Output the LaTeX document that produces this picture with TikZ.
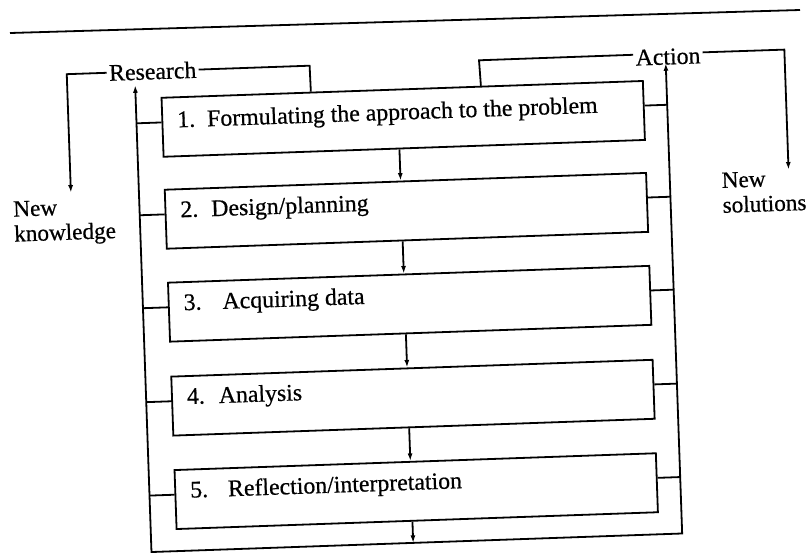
\documentclass[tikz,border=0pt]{standalone}
\usepackage{fontspec}
\setmainfont{Liberation Serif}[FakeBold=0.6]
\usetikzlibrary{arrows.meta,calc}
\begin{document}
\begin{tikzpicture}[x=1pt,y=-1pt,
  every node/.style={font=\fontsize{23.8}{23.3}\selectfont},
  stage/.style={draw, line width=1.8pt, rectangle, anchor=north west,
    minimum width=481.6pt, minimum height=59pt, inner sep=0pt},
  stagetext/.style={anchor=base west, inner sep=0pt},
  headlabel/.style={inner sep=1.5pt},
  outcome/.style={anchor=base west, align=left, inner sep=0pt,
    font=\fontsize{23.2}{25}\selectfont},
  flow/.style={-{Latex[length=7.5pt,width=5pt]}},
]
\useasboundingbox (0,0) rectangle (810,552);
% rule across the head of the page
\draw[line width=1.8pt] (10,33) -- (800,10);

\begin{scope}[rotate around={2:(405,276)}, transform shape, line width=1.8pt]
  % the five stages
  \node[stage] (s1) at (167,88.5) {};
  \node[stage] (s2) at (167,180.5) {};
  \node[stage] (s3) at (167,273.5) {};
  \node[stage] (s4) at (167,367.5) {};
  \node[stage] (s5) at (167,461) {};
  \node[stagetext] (t1) at (182,119.5) {1.\hspace{12pt}Formulating the approach to the problem};
  \node[stagetext] (t2) at (182,209.5) {2.\hspace{13pt}Design/planning};
  \node[stagetext] (t3) at (182,302.5) {3.\hspace{21pt}Acquiring data};
  \node[stagetext] (t4) at (182,396.5) {4.\hspace{14pt}Analysis};
  \node[stagetext] (t5) at (182,490) {5.\hspace{20pt}Reflection/interpretation};

  % research bus (left), bottom line and action bus (right)
  \coordinate (ltop) at (142,76);
  \coordinate (lbot) at (142,543);
  \coordinate (rbot) at (673,543);
  \coordinate (rtop) at (673,72.5);
  \draw[{Latex[length=7.5pt,width=5pt]}-{Latex[length=7.5pt,width=5pt]}]
    (ltop) -- (lbot) -- (rbot) -- (rtop);

  % every stage feeds both buses
  \foreach \s in {s1,s2,s3,s4,s5}{
    \coordinate (pl) at ($(\s.north west)!0.42!(\s.south west)$);
    \coordinate (pr) at ($(\s.north east)!0.42!(\s.south east)$);
    \draw (pl) -- ($(ltop)!(pl)!(lbot)$);
    \draw (pr) -- ($(rtop)!(pr)!(rbot)$);
  }

  % stage to stage
  \foreach \a/\b in {s1/s2,s2/s3,s3/s4,s4/s5}{
    \coordinate (q) at ($(\a.south west)!0.49!(\a.south east)$);
    \draw[flow] (q) -- ($(\b.north west)!(q)!(\b.north east)$);
  }
  \coordinate (q5) at ($(s5.south west)!0.49!(s5.south east)$);
  \draw[flow] (q5) -- ($(lbot)!(q5)!(rbot)$);

  % research branch
  \node[headlabel] (research) at (160,62.5) {Research};
  \coordinate (rk) at (317,62.5);
  \coordinate (rl) at (74,62.5);
  \coordinate (knowtip) at (74,181);
  \draw ($(s1.north west)!0.311!(s1.north east)$) -- (rk) -- (research.east);
  \draw[flow] (research.west) -- (rl) -- (knowtip);

  % action branch
  \node[headlabel] (action) at (675.5,66) {Action};
  \coordinate (ak) at (486.5,63);
  \coordinate (ar) at (792,63);
  \coordinate (soltip) at (792,183);
  \draw ($(s1.north west)!0.663!(s1.north east)$) -- (ak)
    -- ($(action.north west)!0.35!(action.south west)$);
  \draw[flow] ($(action.north east)!0.35!(action.south east)$) -- (ar) -- (soltip);

  % outcomes (anchored on the baseline of their last line)
  \node[outcome] (know) at (15,228) {New\\knowledge};
  \node[outcome] (sol) at (724,224) {New\\solutions};
\end{scope}
\end{tikzpicture}
\end{document}
